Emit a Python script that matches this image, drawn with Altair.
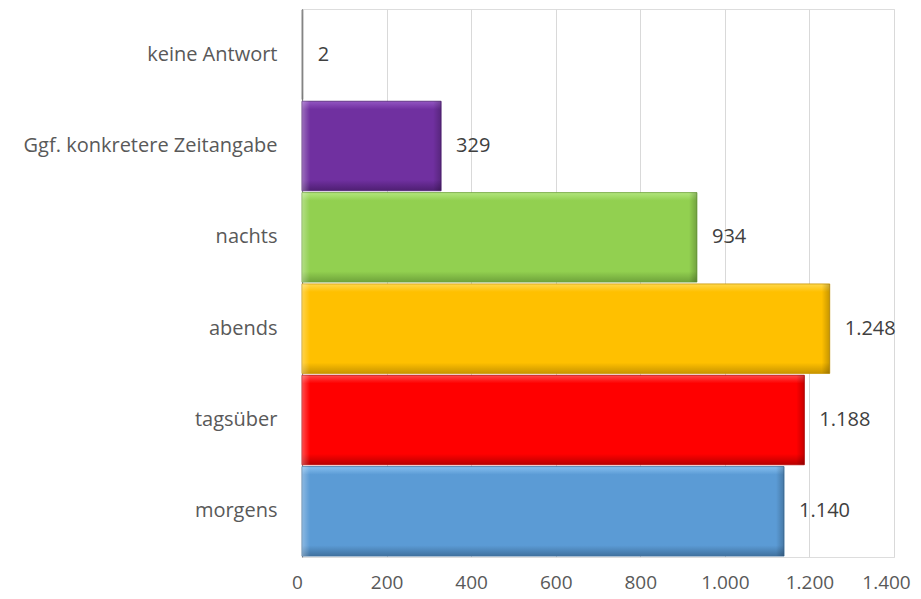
import altair as alt
import pandas as pd

categories = ["keine Antwort", "Ggf. konkretere Zeitangabe", "nachts", "abends", "tagsüber", "morgens"]
values = [2, 329, 934, 1248, 1188, 1140]
colors = ["#A5A5A5", "#7030A0", "#92D050", "#FFC000", "#FF0000", "#5B9BD5"]
light = ["#D0D0D0", "#9355C2", "#B2E67E", "#FFD84D", "#FF4A4A", "#86BFEF"]
dark = ["#7A7A7A", "#4E1F72", "#6FA33B", "#C99500", "#B80000", "#41729F"]
x_ticks = [0, 200, 400, 600, 800, 1000, 1200, 1400]

df = pd.DataFrame({"cat": categories, "val": values})

W = 592
yscale = alt.Scale(domain=categories, paddingInner=0.02, paddingOuter=0.01)
xscale = alt.Scale(domain=[0, 1400], nice=False)

FS = 20
base = alt.Chart(df).encode(
    y=alt.Y("cat:N", sort=categories, scale=yscale, title=None,
            axis=alt.Axis(labelFont="Open Sans", labelFontSize=FS, labelColor="#595959",
                          ticks=False, domain=True, domainColor="#8C8C8C", domainWidth=1.2,
                          labelPadding=25, labelLimit=0, minExtent=294, maxExtent=294, grid=False)),
)

xenc = alt.X("val:Q", scale=xscale, title=None,
             axis=alt.Axis(values=x_ticks, grid=True, gridColor="#D9D9D9",
                           domain=False, ticks=False, labelFont="Open Sans", labelFlush=False,
                           labelFontSize=19, labelColor="#595959", labelPadding=16,
                           labelOffset=alt.ExprRef("datum.value == 1400 ? -8 : (datum.value == 0 ? -5 : 0)"),
                           labelExpr="replace(format(datum.value, ','), ',', '.')"))

layers = []
for c, v, col, lt, dk in zip(categories, values, colors, light, dark):
    layers.append(
        base.mark_bar(
            fill=alt.Gradient(gradient="linear", x1=0, x2=0, y1=0, y2=1,
                              stops=[alt.GradientStop(color=lt, offset=0),
                                     alt.GradientStop(color=col, offset=0.09),
                                     alt.GradientStop(color=col, offset=0.88),
                                     alt.GradientStop(color=dk, offset=1)]),
            stroke=dk, strokeWidth=0.8,
        ).encode(x=xenc).transform_filter(alt.datum.cat == c)
    )
    px = v * W / 1400.0
    if px > 30:
        o = 8.0 / px
        layers.append(
            base.mark_bar(
                fill=alt.Gradient(gradient="linear", x1=0, x2=1, y1=0, y2=0,
                                  stops=[alt.GradientStop(color="rgba(255,255,255,0.30)", offset=0),
                                         alt.GradientStop(color="rgba(255,255,255,0)", offset=o),
                                         alt.GradientStop(color="rgba(0,0,0,0)", offset=1 - o),
                                         alt.GradientStop(color="rgba(0,0,0,0.22)", offset=1)]),
            ).encode(x=xenc).transform_filter(alt.datum.cat == c)
        )

text = base.mark_text(align="left", dx=15, font="Open Sans", fontSize=FS, color="#404040").encode(
    x=alt.X("val:Q", scale=xscale),
    text="lbl:N",
).transform_calculate(lbl="replace(format(datum.val, ','), ',', '.')")

chart = alt.layer(*layers, text).properties(
    width=W, height=548,
    padding={"left": 0, "top": 1, "right": 0, "bottom": 3},
).configure_view(stroke=None).configure(background="white")

chart.save("out.html", embed_options={"renderer": "svg", "actions": False})
